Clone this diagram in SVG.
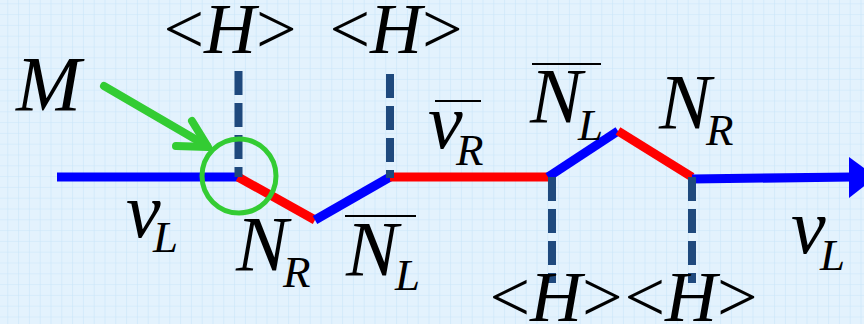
<svg xmlns="http://www.w3.org/2000/svg" width="864" height="324" viewBox="0 0 864 324">
<defs>
<pattern id="grid" x="7.3" y="3.3" width="10.8" height="10.8" patternUnits="userSpaceOnUse">
<path d="M0 0H10.8M0 0V10.8" fill="none" stroke="#c9e5f9" stroke-width="1.2"/>
</pattern>
<style>
.t{font-family:"Liberation Serif","Times New Roman",serif;fill:#000}
.i{font-style:italic}
.big{font-size:78px}
.sub{font-size:45px}
.h{font-size:72px}
.dash{stroke:#1f497d;stroke-width:8;stroke-dasharray:24 8;fill:none}
.blue{stroke:#0000ff;stroke-width:9;fill:none}
.red{stroke:#ff0000;stroke-width:9;fill:none}
.ov{stroke:#000;stroke-width:2.2}
</style>
</defs>
<rect width="864" height="324" fill="#e3f2fd"/>
<rect width="864" height="324" fill="url(#grid)"/>

<g id="connectors">
<line class="blue" x1="57" y1="177" x2="239" y2="177"/>
<line class="red" x1="238" y1="177" x2="315" y2="220"/>
<line class="blue" x1="315" y1="220" x2="390" y2="177"/>
<line class="red" x1="390" y1="177" x2="550" y2="177"/>
<line class="blue" x1="548" y1="177" x2="618" y2="131"/>
<line class="red" x1="618" y1="131" x2="692" y2="177"/>
<line class="blue" x1="692" y1="179" x2="852" y2="177"/>
<polygon points="849,157 876,177 849,198" fill="#0000ff"/>
<line class="dash" x1="238.5" y1="71" x2="238.5" y2="177"/>
<line class="dash" x1="390" y1="74" x2="390" y2="178"/>
<line class="dash" x1="552" y1="177" x2="552" y2="283"/>
<line class="dash" x1="692" y1="177" x2="692" y2="283"/>
</g>

<g id="marker-M">
<circle cx="239" cy="176" r="37" fill="none" stroke="#33cc33" stroke-width="5"/>
<g stroke="#33cc33" stroke-width="8" stroke-linecap="round" stroke-linejoin="round" fill="none">
<line x1="104" y1="86" x2="207" y2="146"/>
<polyline points="192,121 208,147 176,146"/>
</g>
<text class="t i big" x="16" y="110">M</text>
</g>

<g id="H-top1"><text class="t h" x="230" y="53" text-anchor="middle">&lt;<tspan class="i">H</tspan>&gt;</text></g>
<g id="H-top2"><text class="t h" x="396" y="53" text-anchor="middle">&lt;<tspan class="i">H</tspan>&gt;</text></g>
<g id="H-bot1"><text class="t h" x="556" y="321" text-anchor="middle">&lt;<tspan class="i">H</tspan>&gt;</text></g>
<g id="H-bot2"><text class="t h" x="691" y="321" text-anchor="middle">&lt;<tspan class="i">H</tspan>&gt;</text></g>

<g id="vL-left"><text class="t i big" x="126" y="237">v</text><text class="t i sub" x="153" y="252">L</text></g>
<g id="NR-left"><text class="t i big" x="236" y="270">N</text><text class="t i sub" x="283" y="287">R</text></g>
<g id="NLbar-left"><line class="ov" x1="345" y1="216" x2="416" y2="216"/><text class="t i big" x="346" y="275">N</text><text class="t i sub" x="395" y="290">L</text></g>
<g id="vRbar"><line class="ov" x1="435" y1="101" x2="481" y2="101"/><text class="t i big" x="428" y="148">v</text><text class="t i sub" x="456" y="165">R</text></g>
<g id="NLbar-top"><line class="ov" x1="532" y1="64" x2="601" y2="64"/><text class="t i big" x="530" y="122">N</text><text class="t i sub" x="578" y="140">L</text></g>
<g id="NR-right"><text class="t i big" x="659" y="128">N</text><text class="t i sub" x="706" y="145">R</text></g>
<g id="vL-right"><text class="t i big" x="791" y="253">v</text><text class="t i sub" x="820" y="270">L</text></g>
</svg>
